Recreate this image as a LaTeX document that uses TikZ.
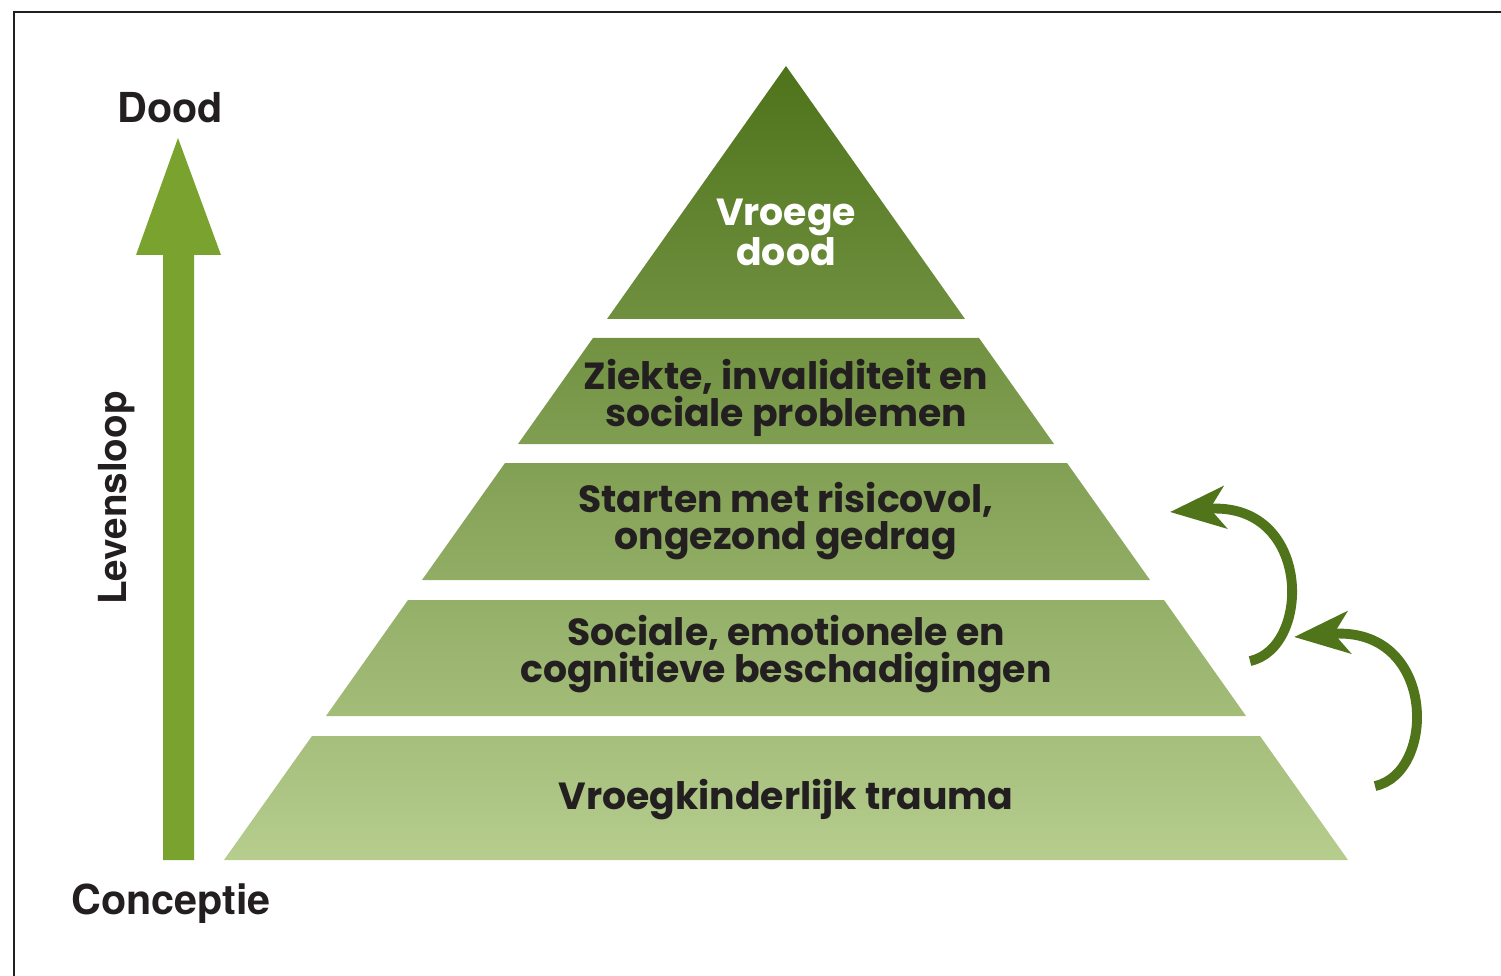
\documentclass[tikz,border=0pt]{standalone}
\usepackage{fontspec}
\setmainfont{TeX Gyre Heros}
\newfontfamily\pyrfont{Poppins}
\usetikzlibrary{arrows.meta,positioning}
\definecolor{pyrtop}{RGB}{78,115,26}
\definecolor{pyrbot}{RGB}{182,205,142}
\definecolor{lifegreen}{RGB}{122,162,46}
\definecolor{loopgreen}{RGB}{80,116,26}
\definecolor{txtblack}{RGB}{35,31,32}

\begin{document}
\begin{tikzpicture}[x=0.02cm,y=-0.02cm]
	\useasboundingbox (0,0) rectangle (1501,976);
	\tikzset{tier/.style={font=\pyrfont\bfseries\fontsize{21.5}{21.5}\selectfont,text=txtblack,align=center}}
	\tikzset{sidelabel/.style={font=\bfseries\fontsize{23.5}{24}\selectfont,text=txtblack}}
	\tikzset{loop/.style={draw=loopgreen,line width=5.6pt,-{Stealth[length=1.1cm,width=0.84cm,inset=0.3cm]}}}
	
	\draw[line width=1.3pt,txtblack] (14,976) -- (14,12) -- (1501,12);
	
	\shade[top color=pyrtop,bottom color=pyrtop!68!pyrbot] (786,66) -- (965,319) -- (607,319) -- cycle;
	\shade[top color=pyrtop!66!pyrbot,bottom color=pyrtop!52!pyrbot] (593,338) -- (979,338) -- (1054,444) -- (518,444) -- cycle;
	\shade[top color=pyrtop!50!pyrbot,bottom color=pyrtop!35!pyrbot] (505,463) -- (1067,463) -- (1150,580) -- (422,580) -- cycle;
	\shade[top color=pyrtop!33!pyrbot,bottom color=pyrtop!18!pyrbot] (408,600) -- (1164,600) -- (1246,716) -- (326,716) -- cycle;
	\shade[top color=pyrtop!16!pyrbot,bottom color=pyrbot] (312,736) -- (1260,736) -- (1348,860) -- (224,860) -- cycle;
	
	\node[tier,text=white] (death) at (786,232) {Vroege\\dood};
	\node[tier] (illness) at (786,398) {Ziekte, invaliditeit en\\sociale problemen};
	\node[tier] (risk) at (786,521) {Starten met risicovol,\\ongezond gedrag};
	\node[tier] (damage) at (786,654) {Sociale, emotionele en\\cognitieve beschadigingen};
	\node[tier] (trauma) at (786,800) {Vroegkinderlijk trauma};
	
	\fill[lifegreen] (163,860) -- (163,255) -- (136,255) -- (178,138) -- (221,255) -- (194,255) -- (194,860) -- cycle;
	\node[sidelabel] (dood) at (170,108) {Dood};
	\node[sidelabel] (conceptie) at (171,904) {Conceptie};
	\node[sidelabel,font=\bfseries\fontsize{22}{24}\selectfont,rotate=90] (levensloop) at (117,498) {Levensloop};
	
	\coordinate (loopAstart) at (1250,661);
	\coordinate (loopAend) at (1170,512);
	\coordinate (loopBstart) at (1375,786);
	\coordinate (loopBend) at (1294,637);
	\draw[loop] (loopAstart) .. controls (1312,648) and (1312,500) .. (loopAend);
	\draw[loop] (loopBstart) .. controls (1437,773) and (1437,625) .. (loopBend);
\end{tikzpicture}
\end{document}
